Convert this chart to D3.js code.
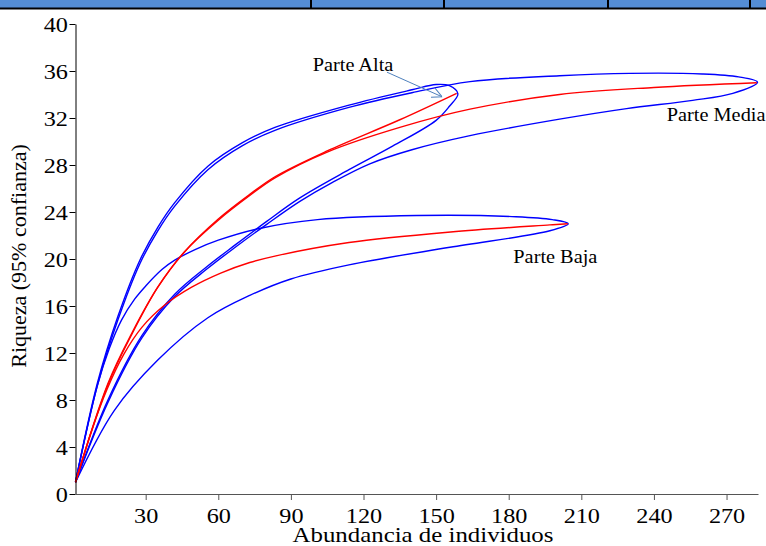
<!DOCTYPE html>
<html>
<head>
<meta charset="utf-8">
<script src="https://cdn.jsdelivr.net/npm/d3@7"></script>
<style>
  body { margin: 0; background: #fff; }
  svg { display: block; font-family: "Liberation Serif", "Times New Roman", serif; }
</style>
</head>
<body>
<div id="chart"></div>
<script>
(function(module){

  /*global d3:true*/

  // tick labels
  const xTicks = [30, 60, 90, 120, 150, 180, 210, 240, 270];
  const yTicks = [0, 4, 8, 12, 16, 20, 24, 28, 32, 36, 40];

  // rarefaction curves, [individuos, especies]
  const altaRed = [[1, 1], [14.4, 9.4], [24.3, 13.7], [35, 17.6], [46, 20.6], [60, 23.4], [73, 25.5], [83.4, 27.0], [105, 29.2], [135, 31.85], [158.5, 34.1]];
  const altaUpper = [[1, 1], [10, 9.4], [18.5, 15.1], [27.6, 19.9], [35, 22.7], [42, 24.8], [55.7, 27.9], [70, 29.9], [83.4, 31.2], [114, 33.1], [140, 34.4], [150, 34.85], [155.5, 34.75]];
  const altaLower = [[1, 1], [14.4, 8.0], [28.5, 13.5], [42, 17.0], [55, 19.3], [67, 21.2], [80, 23.2], [93.7, 25.2], [114, 27.6], [132, 29.6], [150, 31.8], [155.5, 33.0]];
  const altaEnd = [159, 34.05];

  const mediaRed = [[1, 1], [14.4, 9.3], [24.3, 13.6], [35, 17.6], [46, 20.6], [60, 23.3], [73, 25.4], [83.4, 26.9], [105, 29.1], [135, 31.2], [164, 32.75], [201, 34.0], [240, 34.6], [282.5, 35.0]];
  const mediaUpper = [[1, 1], [10, 9.2], [18.5, 14.8], [27.6, 19.6], [35, 22.4], [42, 24.5], [55.7, 27.6], [70, 29.65], [83.4, 30.95], [114, 32.9], [140, 34.15], [164, 35.1], [201, 35.6], [230, 35.8], [260, 35.75], [275, 35.5]];
  const mediaLower = [[1, 1], [14.4, 7.8], [28.5, 13.3], [42, 16.8], [55, 19.1], [67, 21.0], [80, 22.95], [93.7, 24.9], [107, 26.5], [122.6, 28.1], [140, 29.3], [164, 30.5], [201, 31.9], [228.7, 32.8], [256, 33.5], [272.6, 34.1]];
  const mediaEnd = [282.8, 35.05];

  const bajaRed = [[1, 1], [8, 5.6], [14, 8.9], [21, 11.9], [28.5, 14.2], [38, 16.1], [49, 17.6], [61, 18.8], [73, 19.7], [83.4, 20.25], [114, 21.4], [156, 22.3], [197, 22.9], [204.4, 23.0]];
  const bajaUpper = [[1, 1], [10, 9.2], [15, 12.4], [20, 14.8], [25.5, 16.6], [30, 17.7], [36.7, 19.1], [42, 19.9], [50.4, 20.8], [60, 21.6], [77, 22.6], [101, 23.35], [142, 23.7], [183, 23.6], [198, 23.35]];
  const bajaLower = [[1, 1], [17, 7.1], [35, 11.4], [55.7, 15.0], [73, 16.9], [90, 18.3], [114, 19.5], [155.7, 21.0], [197, 22.4]];
  const bajaEnd = [204.6, 23.0];

  let width = 766;
  let height = 546;
  let stretch = 1.1; //the original figure was widened, so its texts are too

  let chart = {};
  module.chart = chart;

  chart.x = d3.scaleLinear().domain([1, 283]).range([75.5, 758]);
  chart.y = d3.scaleLinear().domain([0, 40]).range([494, 24]);

  chart.line = d3.line()
  .x((d) => chart.x(d[0]))
  .y((d) => chart.y(d[1]))
  .curve(d3.curveCatmullRom.alpha(0.5));

  //upper bound out to the end point, then lower bound back to the start
  chart.loop = function(upper, end, lower){
    return upper.concat([end], lower.slice().reverse());
  };

  chart.makeSVG = function(){
    chart.svg = d3.select('#chart')
    .append('svg')
    .attr('width', width)
    .attr('height', height);

    //strip of the table above the figure
    chart.svg.append('rect')
    .attr('x', 0).attr('y', 0)
    .attr('width', width).attr('height', 8)
    .attr('fill', '#548dd4');
    chart.svg.append('line')
    .attr('x1', 0).attr('x2', width)
    .attr('y1', 8.5).attr('y2', 8.5)
    .attr('stroke', '#000').attr('stroke-width', 2);
    chart.svg.selectAll('.divider')
    .data([311, 444, 608, 750])
    .enter().append('line')
    .attr('class', 'divider')
    .attr('x1', (d) => d).attr('x2', (d) => d)
    .attr('y1', 0).attr('y2', 9)
    .attr('stroke', '#000').attr('stroke-width', 2);
  };

  chart.makeAxes = function(){
    let yAxis = chart.svg.append('g')
    .attr('transform', `translate(${chart.x(1)},0)`)
    .call(d3.axisLeft(chart.y).tickValues(yTicks).tickSize(6).tickSizeOuter(0).tickPadding(1));
    yAxis.selectAll('text')
    .attr('font-size', 22)
    .attr('font-family', 'Liberation Serif')
    .attr('fill', '#000')
    .attr('transform', `scale(${stretch},1)`);
    yAxis.selectAll('line, path').attr('stroke', '#000');

    let xAxis = chart.svg.append('g')
    .attr('transform', `translate(0,${chart.y(0)})`)
    .call(d3.axisBottom(chart.x).tickValues(xTicks).tickSize(6).tickSizeOuter(0).tickPadding(7));
    xAxis.selectAll('text')
    .attr('font-size', 22)
    .attr('font-family', 'Liberation Serif')
    .attr('fill', '#000')
    .attr('transform', `scale(${stretch},1)`);
    xAxis.selectAll('line, path').attr('stroke', '#555');

    chart.svg.append('text')
    .attr('transform', 'translate(26,256) rotate(-90)')
    .attr('text-anchor', 'middle')
    .attr('font-size', 22)
    .text('Riqueza (95% confianza)');

    chart.svg.append('text')
    .attr('transform', 'translate(423,542) scale(1.13,1)')
    .attr('text-anchor', 'middle')
    .attr('font-size', 22)
    .text('Abundancia de individuos');
  };

  chart.makeCurves = function(){
    let loops = [
      chart.loop(altaUpper, altaEnd, altaLower),
      chart.loop(mediaUpper, mediaEnd, mediaLower),
      chart.loop(bajaUpper, bajaEnd, bajaLower),
    ];
    chart.svg.selectAll('.ci')
    .data(loops)
    .enter().append('path')
    .attr('class', 'ci')
    .attr('d', chart.line)
    .attr('fill', 'none')
    .attr('stroke', '#0000ff')
    .attr('stroke-width', 1.4);

    chart.svg.selectAll('.obs')
    .data([altaRed, mediaRed, bajaRed])
    .enter().append('path')
    .attr('class', 'obs')
    .attr('d', chart.line)
    .attr('fill', 'none')
    .attr('stroke', '#ff0000')
    .attr('stroke-width', 1.4);
  };

  chart.makeLabels = function(){
    let x = chart.x;
    let y = chart.y;

    chart.svg.append('defs').append('marker')
    .attr('id', 'head')
    .attr('viewBox', '0 0 10 10')
    .attr('refX', 10).attr('refY', 5)
    .attr('markerWidth', 10).attr('markerHeight', 10)
    .attr('markerUnits', 'userSpaceOnUse')
    .attr('orient', 'auto')
    .append('path')
    .attr('d', 'M0,0 L10,5 L0,10')
    .attr('fill', 'none')
    .attr('stroke', '#4f81bd')
    .attr('stroke-width', 1);

    chart.svg.append('line')
    .attr('x1', x(129.7)).attr('y1', y(35.9))
    .attr('x2', x(152.5)).attr('y2', y(33.8))
    .attr('stroke', '#4f81bd')
    .attr('stroke-width', 1)
    .attr('marker-end', 'url(#head)');

    let labels = [
      { text: 'Parte Alta', n: 99, s: 36.0 },
      { text: 'Parte Media', n: 245.3, s: 31.75 },
      { text: 'Parte Baja', n: 181.9, s: 19.66 },
    ];
    chart.svg.selectAll('.zone')
    .data(labels)
    .enter().append('text')
    .attr('class', 'zone')
    .attr('transform', (d) => `translate(${x(d.n)},${y(d.s)}) scale(1.07,1)`)
    .attr('font-size', 19)
    .text((d) => d.text);
  };

  chart.makeSVG();
  chart.makeCurves();
  chart.makeAxes();
  chart.makeLabels();

})(window);
</script>
</body>
</html>
